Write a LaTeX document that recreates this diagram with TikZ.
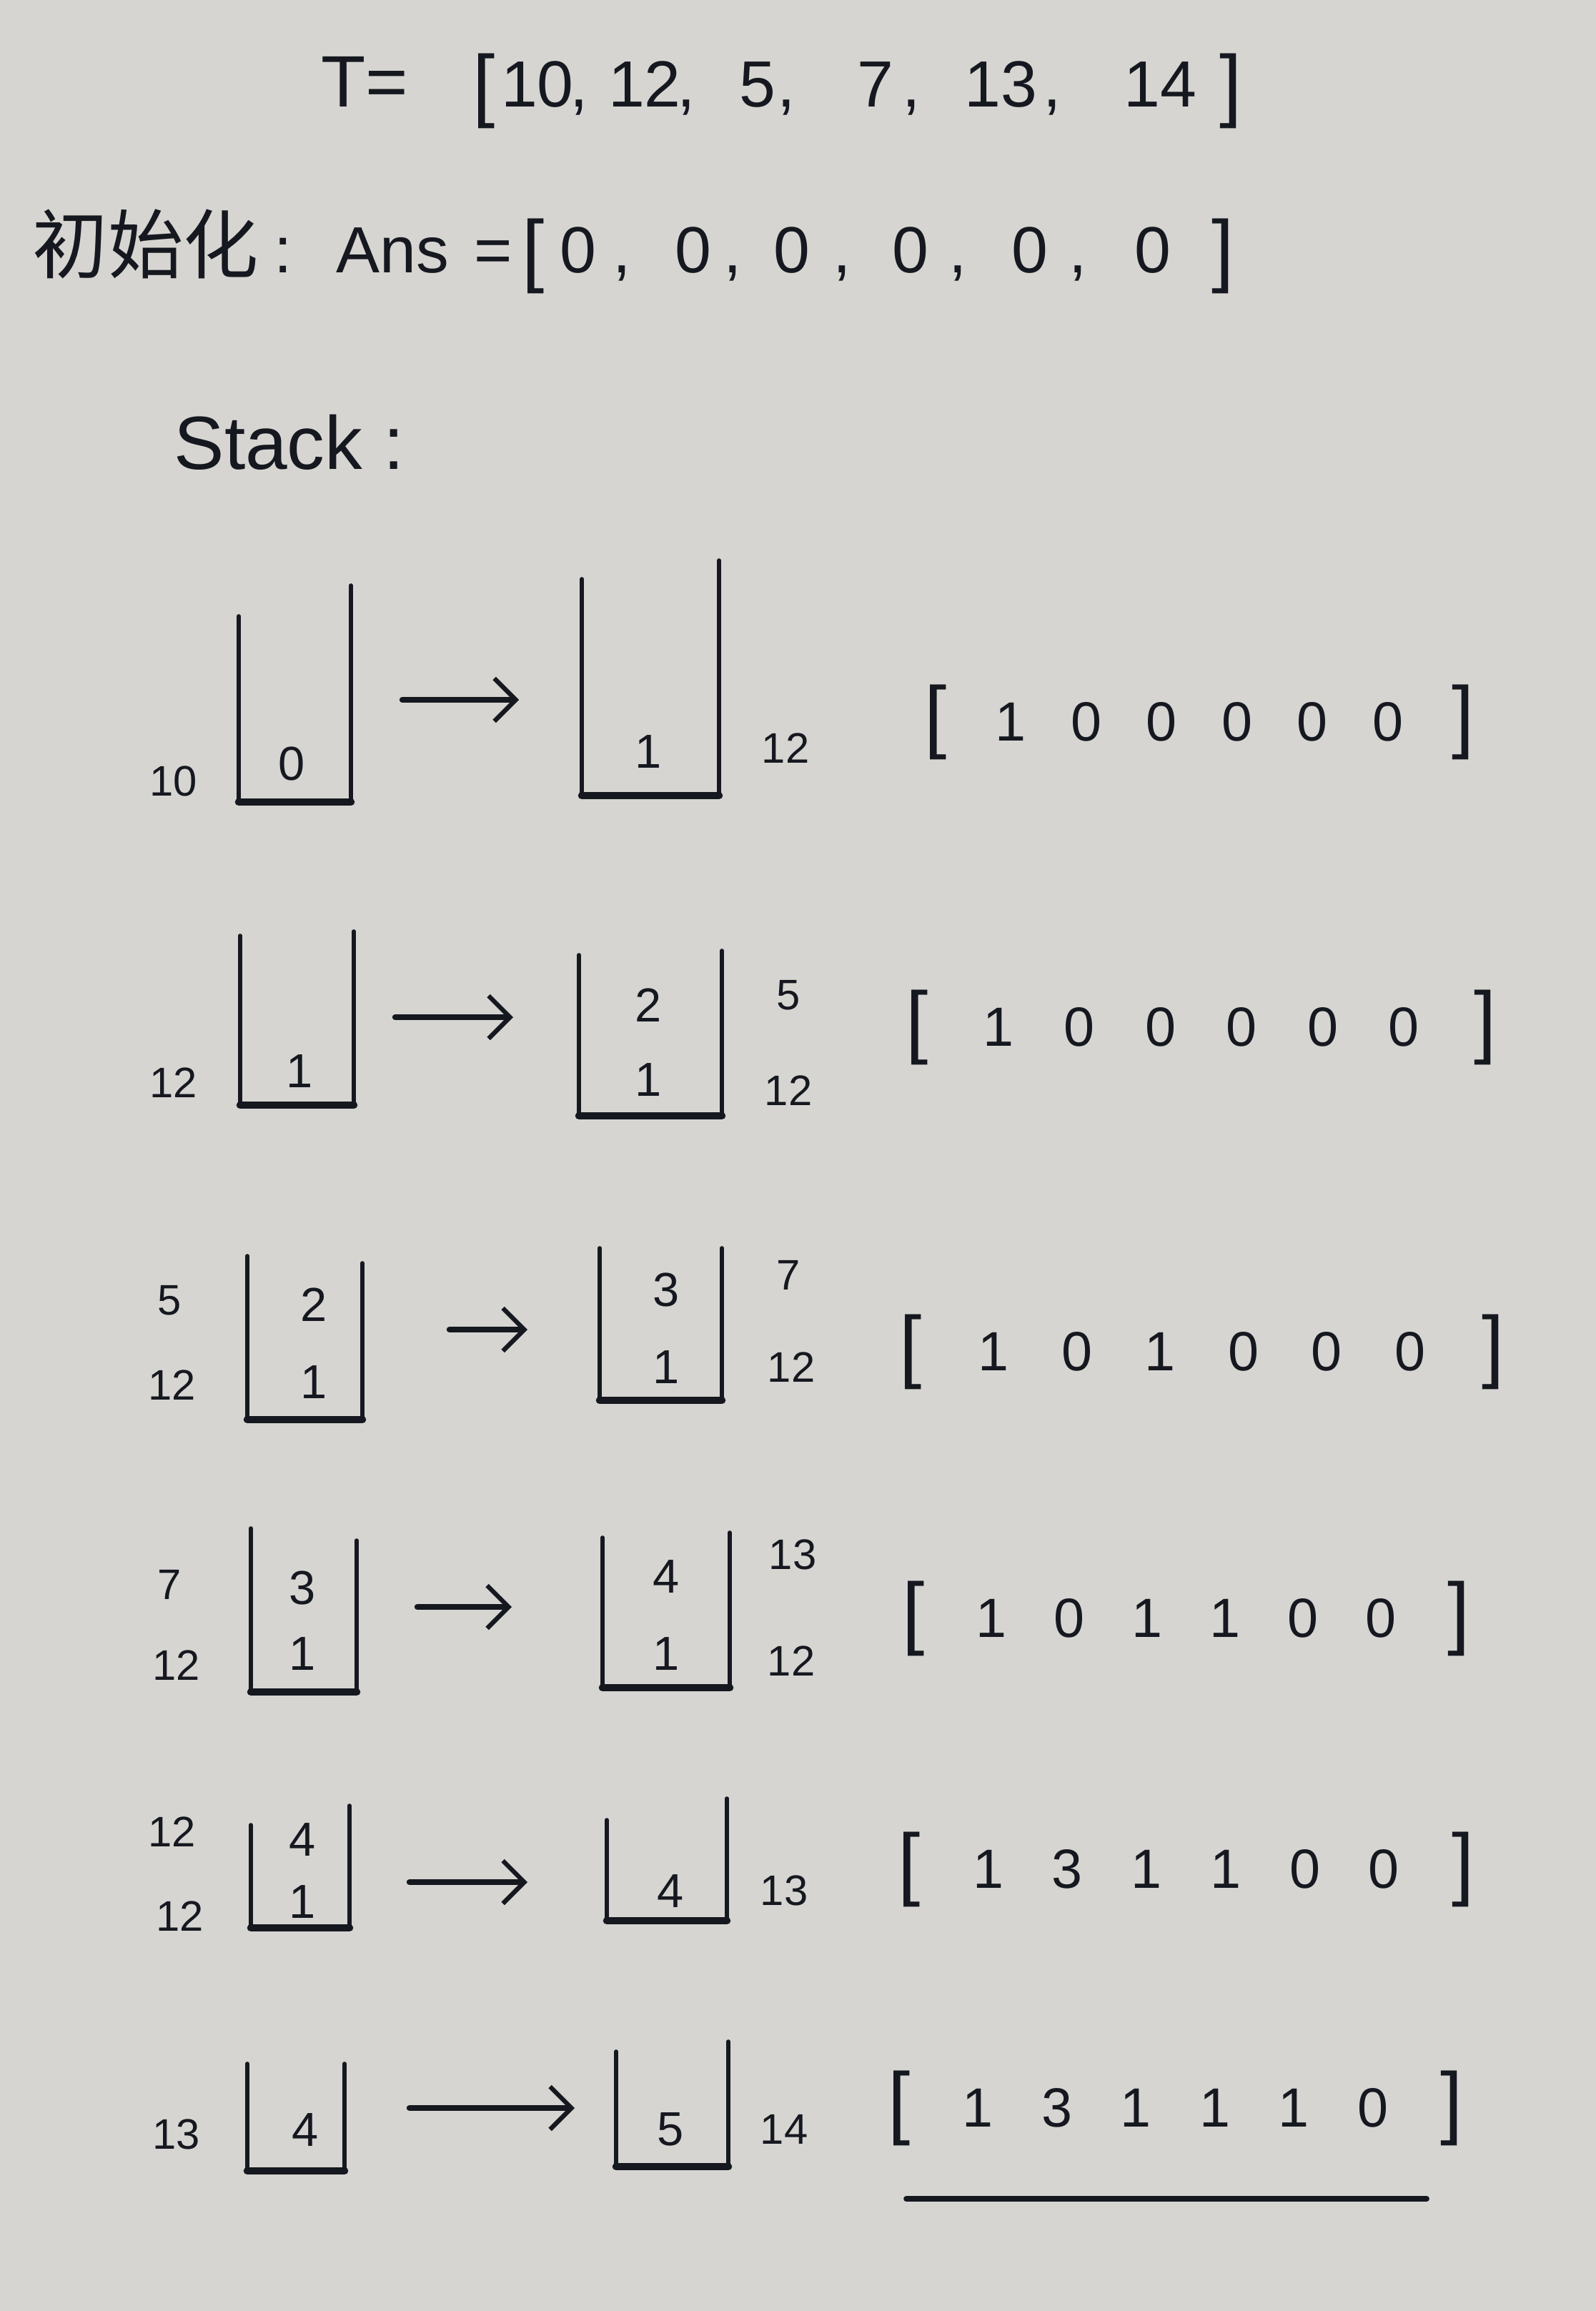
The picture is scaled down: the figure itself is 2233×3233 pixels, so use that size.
\documentclass[tikz,border=0pt]{standalone}
\usepackage{fontspec}
\setmainfont{Liberation Sans}
\newfontfamily\cjk{Noto Sans CJK SC}
\usetikzlibrary{arrows.meta}
\definecolor{paper}{RGB}{214,213,209}
\definecolor{ink}{RGB}{22,24,32}
\newcommand{\stk}[5]{%
  \draw[wall] (#1,#2) -- (#1,#5) -- (#3,#5) -- (#3,#4);
  \draw[base] (#1,#5) -- (#3,#5);}
\newcommand{\ansrow}[5]{%
  \node[brk] (#1l) at (#3,#2) {[};
  \node[brk] (#1r) at (#4,#2) {]};
  \foreach \d [count=\i] in {#5} {\node[vec] (#1-\i) at ({#3+\i*(#4-#3)/7},#2) {\d};}}
\begin{document}
\begin{tikzpicture}[x=0.1mm,y=-0.1mm,
  every node/.style={text=ink, inner sep=0pt},
  big/.style={font=\fontsize{26}{30}\selectfont, anchor=base},
  cjkbig/.style={font=\cjk\fontsize{30}{34}\selectfont, anchor=base west},
  vec/.style={font=\fontsize{22}{26}\selectfont},
  brk/.style={font=\fontsize{32}{36}\selectfont},
  bbrk/.style={font=\fontsize{32}{36}\selectfont, anchor=base},
  inner/.style={font=\fontsize{19}{22}\selectfont},
  side/.style={font=\fontsize{17}{20}\selectfont},
  wall/.style={draw=ink, line width=1.6pt, line cap=round, line join=round},
  base/.style={draw=ink, line width=3pt, line cap=round},
  arr/.style={draw=ink, line width=2.4pt, line cap=round, -{Straight Barb[length=3mm,width=6mm,line width=1.8pt]}},
  uline/.style={draw=ink, line width=2.2pt, line cap=round}]
\fill[paper] (0,0) rectangle (2233,3233);
\useasboundingbox (0,0) rectangle (2233,3233);

% title line (baseline y = 150)
\node[big, font=\fontsize{29}{32}\selectfont] (tT) at (510,150) {T=};
\node[bbrk] (tl) at (677,156) {[};
\node[big] (t1) at (752,150) {10};
\node[big] (c1) at (810,150) {,};
\node[big] (t2) at (902,150) {12};
\node[big] (c2) at (960,150) {,};
\node[big] (t3) at (1060,150) {5};
\node[big] (c3) at (1100,150) {,};
\node[big] (t4) at (1225,150) {7};
\node[big] (c4) at (1275,150) {,};
\node[big] (t5) at (1400,150) {13};
\node[big] (c5) at (1472,150) {,};
\node[big] (t6) at (1623,150) {14};
\node[bbrk] (tr) at (1722,156) {]};

% init line (baseline y = 381)
\node[cjkbig] (init) at (45,381) {初始化};
\node[big] (ic) at (396,381) {:};
\node[big, anchor=base west] (ans) at (470,381) {Ans};
\node[big] (ieq) at (690,381) {=};
\node[bbrk] (il) at (746,387) {[};
\node[big] (i1) at (809,381) {0};
\node[big] (k1) at (870,381) {,};
\node[big] (i2) at (970,381) {0};
\node[big] (k2) at (1025,381) {,};
\node[big] (i3) at (1108,381) {0};
\node[big] (k3) at (1178,381) {,};
\node[big] (i4) at (1274,381) {0};
\node[big] (k4) at (1340,381) {,};
\node[big] (i5) at (1441,381) {0};
\node[big] (k5) at (1508,381) {,};
\node[big] (i6) at (1613,381) {0};
\node[bbrk] (ir) at (1711,387) {]};

\node[font=\fontsize{30}{34}\selectfont, anchor=west] (stack) at (243,619) {Stack :};

% row 1
\stk{334}{862}{491}{819}{1122}
\node[inner] (r1a1) at (408,1068) {0};
\node[side] (r1al) at (243,1093) {10};
\coordinate (r1s) at (563,979); \coordinate (r1e) at (726,979);
\draw[arr] (r1s) -- (r1e);
\stk{814}{810}{1006}{784}{1113}
\node[inner] (r1b1) at (907,1052) {1};
\node[side] (r1bl) at (1099,1047) {12};
\ansrow{v1}{1010}{1309}{2047}{1,0,0,0,0,0}

% row 2
\stk{336}{1309}{495}{1303}{1546}
\node[inner] (r2a1) at (419,1499) {1};
\node[side] (r2al) at (243,1515) {12};
\coordinate (r2s) at (553,1423); \coordinate (r2e) at (718,1423);
\draw[arr] (r2s) -- (r2e);
\stk{810}{1336}{1010}{1330}{1561}
\node[inner] (r2b2) at (907,1406) {2};
\node[inner] (r2b1) at (907,1511) {1};
\node[side] (r2bl2) at (1103,1392) {5};
\node[side] (r2bl1) at (1103,1526) {12};
\ansrow{v2}{1437}{1283}{2078}{1,0,0,0,0,0}

% row 3
\stk{346}{1757}{507}{1767}{1986}
\node[side] (r3al2) at (237,1819) {5};
\node[side] (r3al1) at (241,1938) {12};
\node[inner] (r3a2) at (439,1825) {2};
\node[inner] (r3a1) at (439,1934) {1};
\coordinate (r3s) at (629,1860); \coordinate (r3e) at (738,1860);
\draw[arr] (r3s) -- (r3e);
\stk{839}{1746}{1010}{1746}{1959}
\node[inner] (r3b2) at (932,1804) {3};
\node[inner] (r3b1) at (932,1913) {1};
\node[side] (r3bl2) at (1103,1784) {7};
\node[side] (r3bl1) at (1107,1913) {12};
\ansrow{v3}{1891}{1274}{2089}{1,0,1,0,0,0}

% row 4
\stk{351}{2138}{499}{2155}{2367}
\node[side] (r4al2) at (237,2217) {7};
\node[side] (r4al1) at (247,2330) {12};
\node[inner] (r4a2) at (423,2221) {3};
\node[inner] (r4a1) at (423,2314) {1};
\coordinate (r4s) at (584,2248); \coordinate (r4e) at (716,2248);
\draw[arr] (r4s) -- (r4e);
\stk{843}{2151}{1021}{2144}{2361}
\node[inner] (r4b2) at (932,2206) {4};
\node[inner] (r4b1) at (932,2314) {1};
\node[side] (r4bl2) at (1109,2175) {13};
\node[side] (r4bl1) at (1107,2324) {12};
\ansrow{v4}{2264}{1278}{2041}{1,0,1,1,0,0}

% row 5
\stk{351}{2553}{489}{2526}{2697}
\node[side] (r5al2) at (241,2563) {12};
\node[side] (r5al1) at (252,2681) {12};
\node[inner] (r5a2) at (423,2573) {4};
\node[inner] (r5a1) at (423,2660) {1};
\coordinate (r5s) at (573,2633); \coordinate (r5e) at (738,2633);
\draw[arr] (r5s) -- (r5e);
\stk{849}{2546}{1017}{2516}{2687}
\node[inner] (r5b1) at (938,2645) {4};
\node[side] (r5bl1) at (1097,2645) {13};
\ansrow{v5}{2615}{1272}{2047}{1,3,1,1,0,0}

% row 6
\stk{346}{2887}{482}{2887}{3037}
\node[side] (r6al1) at (247,2986) {13};
\node[inner] (r6a1) at (427,2979) {4};
\coordinate (r6s) at (573,2949); \coordinate (r6e) at (804,2949);
\draw[arr] (r6s) -- (r6e);
\stk{862}{2870}{1019}{2856}{3031}
\node[inner] (r6b1) at (938,2979) {5};
\node[side] (r6bl1) at (1097,2979) {14};
\ansrow{v6}{2949}{1258}{2031}{1,3,1,1,1,0}
\coordinate (u1) at (1268,3076); \coordinate (u2) at (1996,3076);
\draw[uline] (u1) -- (u2);
\end{tikzpicture}
\end{document}
